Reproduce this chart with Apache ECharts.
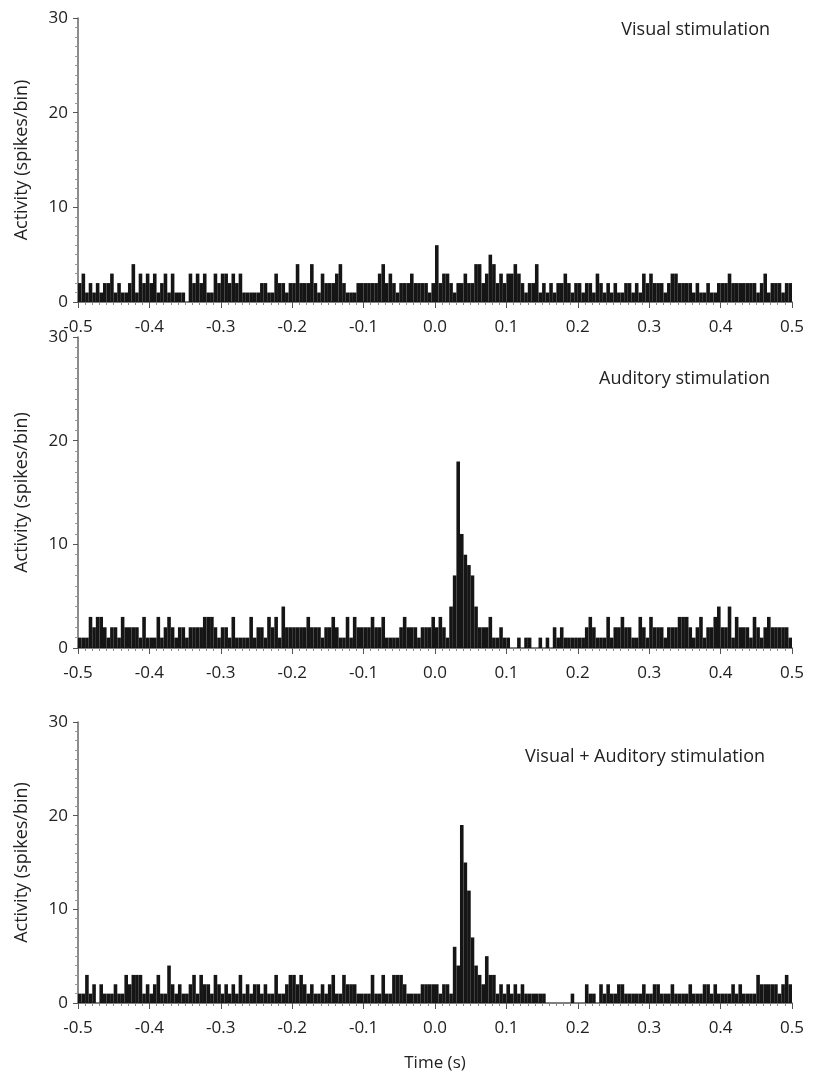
<!DOCTYPE html>
<html>
<head>
<meta charset="utf-8">
<script src="https://cdn.jsdelivr.net/npm/echarts@6/dist/echarts.min.js"></script>
<style>
  html, body { margin: 0; padding: 0; background: #fff; }
  #chart { width: 822px; height: 1076px; }
</style>
</head>
<body>
<div id="chart"></div>
<script>
// 5 ms bins from -0.5 s to 0.5 s (200 bins per panel)
const binStart = -0.5
const binWidth = 0.005

const panelTitles = ['Visual stimulation', 'Auditory stimulation', 'Visual + Auditory stimulation']
const yTicks = [0, 10, 20, 30]

// spikes/bin, one row = 0.1 s
const visualCounts = [
  2,3,1,2,1,2,1,2,2,3,1,2,1,1,2,4,1,3,2,3,
  2,3,1,2,3,1,3,1,1,1,0,3,2,3,2,3,1,1,3,2,
  3,3,2,3,2,3,1,1,1,1,1,2,2,1,1,3,2,2,1,2,
  2,4,2,2,2,4,2,1,3,2,2,2,3,4,2,1,1,1,2,2,
  2,2,2,2,3,4,2,3,2,1,2,2,2,3,2,2,2,2,1,2,
  6,2,3,3,2,1,2,2,3,2,2,4,4,2,3,5,4,2,3,2,
  3,3,4,3,2,1,2,2,4,1,2,1,2,1,2,2,3,2,1,2,
  2,1,2,2,1,3,2,1,2,1,2,1,1,2,2,1,2,1,3,2,
  3,2,2,2,1,2,3,3,2,2,2,2,1,2,1,1,2,1,1,2,
  2,2,3,2,2,2,2,2,2,2,1,2,3,1,2,2,2,1,2,2
]

const auditoryCounts = [
  1,1,1,3,2,3,3,2,1,2,2,1,3,2,2,2,2,1,3,1,
  1,1,3,1,2,3,2,1,2,2,1,2,2,2,2,3,3,3,2,1,
  2,2,1,3,1,1,1,1,3,1,2,2,1,3,2,3,1,4,2,2,
  2,2,2,2,3,2,2,2,1,2,2,3,2,1,1,3,1,3,2,2,
  2,2,3,2,2,3,1,1,1,1,2,3,2,2,2,1,2,2,2,3,
  2,3,2,1,4,7,18,11,9,8,7,4,2,2,2,3,1,1,2,1,
  1,0,0,1,0,1,1,0,0,1,0,1,0,2,1,2,1,1,1,1,
  1,1,2,3,2,1,1,1,3,1,2,2,3,2,2,1,1,3,2,1,
  3,2,2,2,1,2,2,2,3,3,3,2,1,2,3,1,2,2,3,4,
  2,2,4,1,3,2,2,2,1,3,2,1,2,3,2,2,2,2,2,1
]

const combinedCounts = [
  1,1,3,1,2,0,2,1,1,1,2,1,1,3,2,3,3,3,1,2,
  1,2,3,1,1,4,2,1,2,1,1,2,3,1,3,2,2,1,3,2,
  1,2,1,2,1,3,1,2,1,2,2,1,2,1,1,3,1,1,2,3,
  3,2,3,2,1,2,1,1,2,1,2,3,1,1,3,2,2,2,1,1,
  1,1,3,1,1,3,1,1,3,3,3,2,1,1,1,1,2,2,2,2,
  2,1,2,2,1,6,4,19,15,12,7,4,3,2,5,3,3,1,2,1,
  2,1,2,1,2,1,1,1,1,1,1,0,0,0,0,0,0,0,1,0,
  0,0,2,1,1,0,2,1,2,1,1,2,2,1,1,1,1,1,2,1,
  1,2,2,1,1,1,2,1,1,1,1,2,1,1,1,2,2,1,2,1,
  1,1,1,2,1,2,1,1,1,1,3,2,2,2,2,2,1,2,3,2
]

const panelCounts = [visualCounts, auditoryCounts, combinedCounts]

const chart = echarts.init(document.getElementById('chart'))

const font = 'Open Sans'
const grids = [
  { left: 78, width: 714, top: 18, height: 284 },
  { left: 78, width: 714, top: 337, height: 311 },
  { left: 78, width: 714, top: 722, height: 281 }
]
const titleTops = [16, 365, 743]
const titleRights = [47, 47, 52]

const xAxes = grids.map((g, i) => ({
  type: 'value',
  gridIndex: i,
  min: -0.5,
  max: 0.5,
  interval: 0.1,
  name: i === 2 ? 'Time (s)' : '',
  nameLocation: 'middle',
  nameGap: 52,
  nameTextStyle: { fontFamily: font, fontSize: 17, color: '#222' },
  axisLine: { lineStyle: { color: '#555', width: 1.5 } },
  axisTick: { length: 6, lineStyle: { color: '#555' } },
  minorTick: { show: true, splitNumber: 10, length: 3, lineStyle: { color: '#888' } },
  splitLine: { show: false },
  axisLabel: {
    fontFamily: font, fontSize: 17, color: '#222', margin: 17,
    formatter: v => v.toFixed(1)
  }
}))

const yAxes = grids.map((g, i) => ({
  type: 'value',
  gridIndex: i,
  min: yTicks[0],
  max: yTicks[yTicks.length - 1],
  interval: 10,
  name: 'Activity (spikes/bin)',
  nameLocation: 'middle',
  nameGap: 47,
  nameTextStyle: { fontFamily: font, fontSize: 18, color: '#222' },
  axisLine: { show: true, onZero: false, lineStyle: { color: '#666', width: 1.5 } },
  axisTick: { show: true, length: 5, lineStyle: { color: '#555' } },
  minorTick: { show: true, splitNumber: 10, length: 3, lineStyle: { color: '#999' } },
  splitLine: { show: false },
  axisLabel: { fontFamily: font, fontSize: 17, color: '#222', margin: 10 }
}))

const series = panelCounts.map((counts, i) => ({
  type: 'bar',
  xAxisIndex: i,
  yAxisIndex: i,
  barWidth: 3.6,
  itemStyle: { color: '#151515' },
  data: counts.map((v, k) => [binStart + binWidth * (k + 0.5), v])
}))

chart.setOption({
  animation: false,
  backgroundColor: '#fff',
  title: panelTitles.map((t, i) => ({
    text: t,
    right: titleRights[i],
    top: titleTops[i],
    textStyle: { fontFamily: font, fontSize: 18, fontWeight: 'normal', color: '#222' }
  })),
  grid: grids,
  xAxis: xAxes,
  yAxis: yAxes,
  series: series
})
</script>
</body>
</html>
